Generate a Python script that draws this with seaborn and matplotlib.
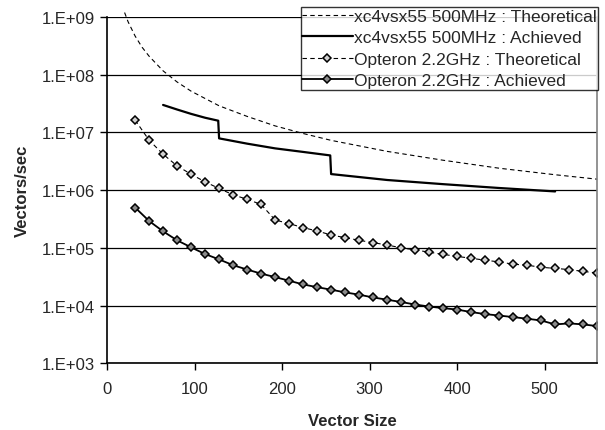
import numpy as np
import pandas as pd
import matplotlib
matplotlib.use("Agg")
import matplotlib.pyplot as plt
from matplotlib.ticker import FixedLocator, FuncFormatter, NullLocator
import seaborn as sns

# values
opt_sizes = list(range(32, 561, 16))
opt_theoretical = [1.64e7, 7.35e6, 4.2e6, 2.63e6, 1.89e6, 1.39e6, 1.07e6, 8.3e5, 6.95e5, 5.65e5,
                   3.04e5, 2.63e5, 2.24e5, 1.96e5, 1.67e5, 1.5e5, 1.35e5, 1.23e5, 1.12e5, 1.0e5,
                   9.2e4, 8.4e4, 7.7e4, 7.1e4, 6.6e4, 6.1e4, 5.7e4, 5.2e4, 5.0e4, 4.6e4,
                   4.4e4, 4.2e4, 3.9e4, 3.66e4]
opt_achieved = [5.0e5, 2.92e5, 1.93e5, 1.35e5, 1.02e5, 7.8e4, 6.3e4, 5.0e4, 4.2e4, 3.57e4,
                3.11e4, 2.69e4, 2.32e4, 2.08e4, 1.88e4, 1.69e4, 1.54e4, 1.38e4, 1.26e4, 1.15e4,
                1.04e4, 9.6e3, 9.0e3, 8.5e3, 7.7e3, 7.1e3, 6.7e3, 6.3e3, 5.9e3, 5.5e3,
                4.7e3, 4.9e3, 4.7e3, 4.4e3]

fpga_theo_sizes = [20, 24, 32, 40, 48, 64, 80, 96, 128, 160, 192, 224, 256, 320, 384, 448, 512, 560]
fpga_theoretical = [1.2e9, 8.3e8, 4.7e8, 3.0e8, 2.1e8, 1.17e8, 7.5e7, 5.2e7, 2.9e7, 1.9e7,
                    1.3e7, 9.6e6, 7.3e6, 4.7e6, 3.3e6, 2.4e6, 1.85e6, 1.55e6]

fpga_ach_sizes = [64, 80, 96, 112, 127, 128, 160, 192, 224, 255, 256, 320, 384, 448, 512]
fpga_achieved = [3.0e7, 2.5e7, 2.1e7, 1.8e7, 1.6e7, 7.9e6, 6.4e6, 5.3e6, 4.6e6, 4.0e6,
                 1.9e6, 1.5e6, 1.27e6, 1.09e6, 9.5e5]

labels = ["xc4vsx55 500MHz : Theoretical", "xc4vsx55 500MHz : Achieved",
          "Opteron 2.2GHz : Theoretical", "Opteron 2.2GHz : Achieved"]

sns.set_style("white")
plt.rcParams['font.family'] = ['Liberation Sans', 'DejaVu Sans']

fig, ax = plt.subplots(figsize=(6.05, 4.31), dpi=100)
fig.subplots_adjust(left=0.177, right=0.987, top=0.958, bottom=0.155)

sns.lineplot(x=fpga_theo_sizes, y=fpga_theoretical, ax=ax, color="black", lw=0.8,
             linestyle=(0, (4, 3)), estimator=None, sort=False, label=labels[0])
sns.lineplot(x=fpga_ach_sizes, y=fpga_achieved, ax=ax, color="black", lw=1.6,
             estimator=None, sort=False, label=labels[1])
sns.lineplot(x=opt_sizes, y=opt_theoretical, ax=ax, color="black", lw=0.8,
             linestyle=(0, (4, 3)), marker="D", markersize=4.5, markerfacecolor="#d0d0d0",
             markeredgecolor="black", markeredgewidth=1.1, estimator=None, sort=False,
             label=labels[2])
sns.lineplot(x=opt_sizes, y=opt_achieved, ax=ax, color="black", lw=1.3,
             marker="D", markersize=4.5, markerfacecolor="#8a8a8a",
             markeredgecolor="black", markeredgewidth=1.1, estimator=None, sort=False,
             label=labels[3])

ax.set_yscale("log")
ax.set_ylim(1e3, 1e9)
ax.set_xlim(0, 560)
ax.xaxis.set_major_locator(FixedLocator([0, 100, 200, 300, 400, 500]))
ax.yaxis.set_major_locator(FixedLocator([1e3, 1e4, 1e5, 1e6, 1e7, 1e8, 1e9]))
ax.yaxis.set_minor_locator(NullLocator())
ax.yaxis.set_major_formatter(FuncFormatter(lambda v, p: "1.E+%02d" % int(round(np.log10(v)))))

ax.grid(axis="y", color="black", lw=0.9)
ax.tick_params(axis="both", which="major", direction="out", length=5, width=1,
               color="black", labelsize=12, left=True, bottom=True)
ax.tick_params(axis="x", pad=8)
ax.tick_params(axis="y", pad=4)

for side in ["left", "bottom"]:
    ax.spines[side].set_color("black")
    ax.spines[side].set_linewidth(1.2)
ax.spines["right"].set_color("#808080")
ax.spines["right"].set_linewidth(1.2)
ax.spines["top"].set_visible(False)

ax.set_xlabel("Vector Size", fontsize=12, fontweight="bold", labelpad=12)
ax.set_ylabel("Vectors/sec", fontsize=12, fontweight="bold", labelpad=8)

leg = ax.legend(loc="lower right", bbox_to_anchor=(598 / 605, 1 - 91 / 431),
                bbox_transform=fig.transFigure, fontsize=12.5, frameon=True,
                fancybox=False, borderpad=0.1, labelspacing=0.36,
                handlelength=2.9, handletextpad=0.05, borderaxespad=0)
leg.get_frame().set_edgecolor("black")
leg.get_frame().set_linewidth(1.0)
ax.get_lines()[0].set_clip_on(False)

fig.savefig("out.png", dpi=100)
